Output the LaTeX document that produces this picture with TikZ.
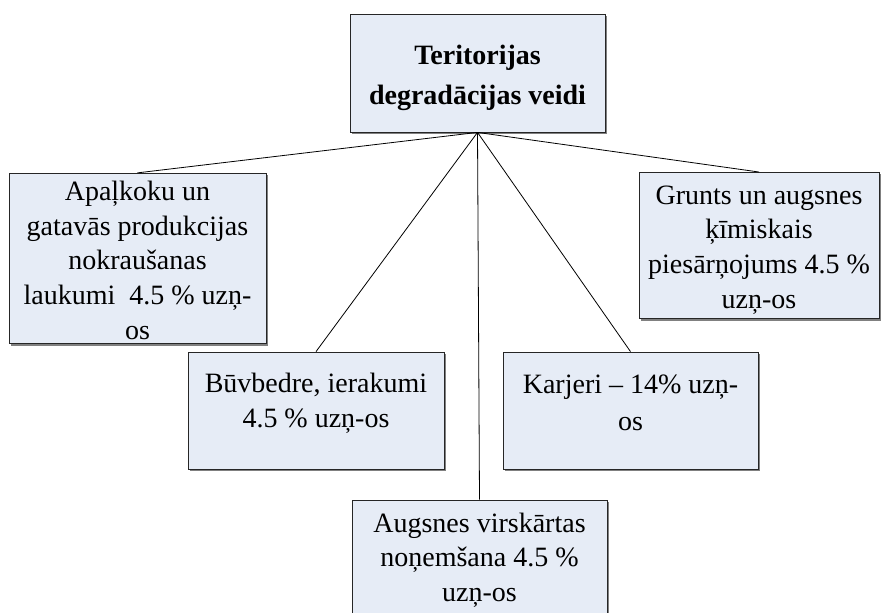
\documentclass[tikz,border=0pt]{standalone}
\usepackage{fontspec}
\setmainfont{Liberation Serif}
\usetikzlibrary{shadows}
\definecolor{boxfill}{RGB}{230,236,246}
\newcommand\padtop[1]{\rule{0pt}{#1}}
\newcommand\padbottom[1]{\rule[-#1]{0pt}{#1}}
\begin{document}
\begin{tikzpicture}[
    x=0.75pt, y=-0.75pt,
    kind/.style={rectangle, draw=black!85, line width=0.6pt, fill=boxfill, align=center,
        font=\fontsize{21}{26}\selectfont,
        drop shadow={shadow xshift=1.5pt, shadow yshift=-1.5pt, fill=black!50, opacity=1}},
    link/.style={draw=black, line width=0.6pt},
]
\useasboundingbox (0,0) rectangle (881,612);

\node[kind, minimum width=191.25pt, minimum height=88.5pt,
      font=\fontsize{21}{30}\selectfont\bfseries] (veidi) at (477.5,73)
    {\padtop{21.5pt}Teritorijas\\degradācijas veidi};

\node[kind, minimum width=192.75pt, minimum height=126.75pt] (laukumi) at (137.5,258.5)
    {\padtop{17pt}Apaļkoku un\\gatavās produkcijas\\nokraušanas\\laukumi \ 4.5 \% uzņ-\\os};
\node[kind, minimum width=180pt, minimum height=107.25pt] (grunts) at (759,245.5)
    {\padtop{20.5pt}Grunts un augsnes\\ķīmiskais\\piesārņojums 4.5 \%\\uzņ-os};
\node[kind, minimum width=192pt, minimum height=87.75pt] (buvbedre) at (316,410.5)
    {Būvbedre, ierakumi\\4.5 \% uzņ-os\padbottom{15pt}};
\node[kind, minimum width=191.25pt, minimum height=87.75pt] (karjeri) at (630.5,410.5)
    {Karjeri -- 14\% uzņ-\\[2pt]os\padbottom{12pt}};
\node[kind, minimum width=191.25pt, minimum height=90pt] (augsne) at (479.5,560)
    {Augsnes virskārtas\\noņemšana 4.5 \%\\uzņ-os};

\foreach \child in {laukumi, grunts, buvbedre, karjeri, augsne}
    \draw[link] (veidi.south) -- (\child.north);

\end{tikzpicture}
\end{document}
